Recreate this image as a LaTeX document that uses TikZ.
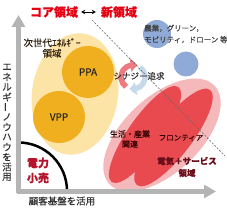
\documentclass[tikz,border=0pt]{standalone}
\usepackage{fontspec}
\setmainfont{Noto Sans CJK JP}[FakeBold=0.35]
\usepackage{xcolor}
\usepackage{tikz}
\usetikzlibrary{arrows.meta,bending,positioning,calc}

\definecolor{corered}{HTML}{E60012}
\definecolor{axisgray}{HTML}{B4B4B4}
\definecolor{nextyellow}{HTML}{FCE4A6}
\definecolor{blobyellow}{HTML}{F0AF1E}
\definecolor{newblue}{HTML}{8FAAD6}
\definecolor{svcpink}{HTML}{F5B9BB}
\definecolor{svcred}{HTML}{E84A50}
\definecolor{synred}{HTML}{EC7A80}
\definecolor{synblue}{HTML}{C9D9EC}
\definecolor{retailred}{HTML}{B4152B}
\definecolor{svctext}{HTML}{6B0F1A}

\begin{document}
\begin{tikzpicture}[x=1pt, y=1pt,
    axis/.style={draw=axisgray, line width=4.5pt, -{Triangle[width=13pt,length=12pt]}},
    title/.style={font=\fontsize{12}{12}\selectfont\bfseries, text=corered, inner sep=0pt},
    axlabel/.style={font=\fontsize{9.5}{9.5}\selectfont, text=black!80, inner sep=0pt},
    note/.style={align=center, inner sep=0pt},
    cycle/.style={line width=5.5pt, -{Triangle[width=13pt,length=7pt,bend]}},
    divider/.style={draw=black!60, line width=0.6pt, dash pattern=on 2pt off 1.5pt}
]
\useasboundingbox (0,0) rectangle (227,208);

% next-generation energy
\fill[nextyellow, rotate around={-8:(75,114)}] (75,114) ellipse[x radius=43, y radius=61];
\node[note, font=\fontsize{9.5}{10.5}\selectfont, text=black!75!brown] (nextgen) at (52,160) {次世代ｴﾈﾙｷﾞｰ\\領域};
\fill[blobyellow] (88,136) circle[radius=26];
\fill[blobyellow] (59,91) circle[radius=26];
\node[font=\fontsize{10}{10}\selectfont, text=black!85] (ppa) at (88,136) {PPA};
\node[font=\fontsize{10}{10}\selectfont, text=black!85] (vpp) at (59,91) {VPP};

% electricity + services
\fill[svcpink, rotate around={43:(162,73)}] (162,73) ellipse[x radius=72, y radius=38];
\fill[svcred, rotate around={55:(145,73.5)}] (145,73.5) ellipse[x radius=58, y radius=17];
\fill[svcred, rotate around={52.5:(173.5,70.5)}] (173.5,70.5) ellipse[x radius=60, y radius=18];
\node[note, font=\fontsize{8}{10}\selectfont, text=black!80!red] (life) at (130,69) {生活・産業\\関連};
\node[note, font=\fontsize{7.5}{7.5}\selectfont, text=black!80!red] (frontier) at (181,70) {フロンティア};
\node[note, font=\fontsize{8.5}{12}\selectfont\bfseries, text=svctext] (svc) at (187,41) {電気＋サービス\\領域};

% new fields
\fill[newblue] (157,174) circle[radius=14];
\fill[newblue] (186,144) circle[radius=12.5];
\node[note, align=left, anchor=west, font=\fontsize{7.5}{11.5}\selectfont, text=black!75] (fields) at (144,174) {農業，グリーン，\\モビリティ，ドローン 等};

% synergy
\coordinate (cyc) at (133,131);
\draw[cycle, draw=synred, fill=none] ([shift={(235:12)}]cyc) arc[start angle=235, end angle=68, radius=12];
\draw[cycle, draw=synblue, fill=none] ([shift={(55:12)}]cyc) arc[start angle=55, end angle=-108, radius=12];
\node[font=\fontsize{8.5}{8.5}\selectfont, text=black!80, inner sep=0pt] (synergy) at (139,132) {シナジー追求};

% divider
\coordinate (divA) at (92,188);
\coordinate (divB) at (225,52);
\draw[divider] (divA) -- (divB);

% retail
\draw[line width=2.5pt] (18.5,65.5) arc[start angle=90, end angle=0, radius=48.5];
\node[note, font=\fontsize{11}{15}\selectfont\bfseries, text=retailred] (retail) at (38,37.5) {電力\\小売};

% axes
\coordinate (origin) at (18.5,14.5);
\coordinate (ytip) at (18.5,193);
\coordinate (xstart) at (16.5,16.5);
\coordinate (xtip) at (216,16.5);
\draw[axis] (origin) -- (ytip);
\draw[axis] (xstart) -- (xtip);
\node[axlabel] (xlab) at (62,7) {顧客基盤を活用};
\foreach \c/\r [count=\i] in {エ/0,ネ/0,ル/0,ギ/0,ー/90,ノ/0,ウ/0,ハ/0,ウ/0,を/0,活/0,用/0}
    \node[axlabel, rotate=\r] (ylab\i) at (7,151-\i*10) {\c};

% title
\node[title] (core) at (54,196) {コア領域};
\node[title] (new) at (119,196) {新領域};
\draw[{Stealth[length=4pt,width=4.5pt]}-{Stealth[length=4pt,width=4.5pt]}, line width=0.7pt, shorten <=3pt, shorten >=5pt] (core.east) -- (new.west);
\end{tikzpicture}
\end{document}
